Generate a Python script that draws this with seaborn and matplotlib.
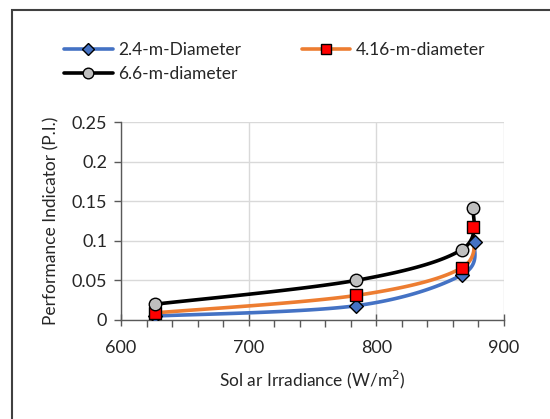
import numpy as np
import pandas as pd
import matplotlib
matplotlib.use("Agg")
import matplotlib.pyplot as plt
import seaborn as sns
from matplotlib.lines import Line2D
from matplotlib.patches import Rectangle
from matplotlib.ticker import MultipleLocator, FuncFormatter

# ---- data ----
irr_24 = [627, 784, 867, 877]
pi_24 = [0.005, 0.018, 0.057, 0.098]
irr_416 = [627, 784, 867, 876]
pi_416 = [0.009, 0.031, 0.066, 0.117]
irr_66 = [627, 784, 867, 876]
pi_66 = [0.020, 0.050, 0.089, 0.142]
series_names = ["2.4-m-Diameter", "4.16-m-diameter", "6.6-m-diameter"]
x_ticks = [600, 700, 800, 900]
y_ticks = [0, 0.05, 0.1, 0.15, 0.2, 0.25]

sns.set_theme(style="white")
plt.rcParams['font.family'] = ['Lato', 'DejaVu Sans']

fig = plt.figure(figsize=(5.5, 4.19), dpi=100)
ax = fig.add_axes([121/550, 1-320/419, (504-121)/550, (320-122)/419])

def smooth(xs, ys, n=40):
    # Excel-like smoothing: parametric Catmull-Rom (Bezier, 1/6 tension) in normalized space
    sx, sy = 300.0, 0.25 * (383/198)
    P = np.column_stack([np.array(xs)/sx, np.array(ys)/sy])
    out = []
    m = len(P)
    for i in range(m-1):
        p0 = P[i-1] if i > 0 else P[i]
        p1, p2 = P[i], P[i+1]
        p3 = P[i+2] if i+2 < m else P[i+1]
        c1 = p1 + (p2 - p0)/6
        c2 = p2 - (p3 - p1)/6
        t = np.linspace(0, 1, n)[:, None]
        seg = (1-t)**3*p1 + 3*(1-t)**2*t*c1 + 3*(1-t)*t**2*c2 + t**3*p2
        out.append(seg if i == 0 else seg[1:])
    S = np.vstack(out)
    return S[:, 0]*sx, S[:, 1]*sy

specs = [
    (irr_24, pi_24, "#4472C4", "D", "#4472C4", 7),
    (irr_416, pi_416, "#ED7D31", "s", "#FF0000", 9),
    (irr_66, pi_66, "#000000", "o", "#BFBFBF", 9),
]
for (xs, ys, lc, mk, mfc, ms), name in zip(specs, series_names):
    sxv, syv = smooth(xs, ys)
    ax.plot(sxv, syv, color=lc, lw=2.6, zorder=2, solid_capstyle='round')
for (xs, ys, lc, mk, mfc, ms), name in zip(specs, series_names):
    df = pd.DataFrame({"x": xs, "y": ys})
    sns.scatterplot(data=df, x="x", y="y", marker=mk, color=mfc, edgecolor="#000000",
                    linewidth=1.0, s=ms**2, ax=ax, zorder=3)

ax.set_xlim(600, 900)
ax.set_ylim(0, 0.25)
ax.set_xticks(x_ticks)
ax.set_yticks(y_ticks)
ax.yaxis.set_major_formatter(FuncFormatter(lambda v, p: "0" if v == 0 else f"{v:g}"))
ax.xaxis.set_minor_locator(MultipleLocator(20))
ax.grid(True, which='major', color="#D9D9D9", lw=1.0)
ax.set_axisbelow(True)
for s in ["top", "right"]:
    ax.spines[s].set_visible(False)
for s in ["left", "bottom"]:
    ax.spines[s].set_color("#595959")
    ax.spines[s].set_linewidth(1.0)
ax.tick_params(axis='x', which='major', direction='inout', length=9, width=1, color="#595959",
               labelsize=13, pad=10, bottom=True)
ax.tick_params(axis='x', which='minor', direction='out', length=5, width=1, color="#595959", bottom=True)
ax.tick_params(axis='y', which='major', direction='out', length=5, width=1, color="#595959",
               labelsize=13, pad=5, left=True)
ax.set_xlabel("Sol ar Irradiance (W/m$^2$)", fontsize=12.5, labelpad=9)
ax.set_ylabel("Performance Indicator (P.I.)", fontsize=12.5, labelpad=9)

handles = []
for (xs, ys, lc, mk, mfc, ms), name in zip(specs, series_names):
    handles.append(Line2D([0], [0], color=lc, lw=2.6, marker=mk, markerfacecolor=mfc,
                          markeredgecolor="#000000", markersize=ms*0.85, markeredgewidth=1.0))
order = [0, 2, 1]
fig.legend([handles[i] for i in order], [series_names[i] for i in order],
           loc="upper left", bbox_to_anchor=(57/550, 1-35/419),
           ncol=2, frameon=False, fontsize=12.5, handlelength=2.8, columnspacing=3.5,
           handletextpad=0.3, labelspacing=0.45, borderaxespad=0)

fig.patches.append(Rectangle((12/550, -0.1), 2.0, 1-10/419+0.1, transform=fig.transFigure,
                             fill=False, edgecolor="#404040", lw=1.5, figure=fig))

fig.savefig("out.png", dpi=100)
